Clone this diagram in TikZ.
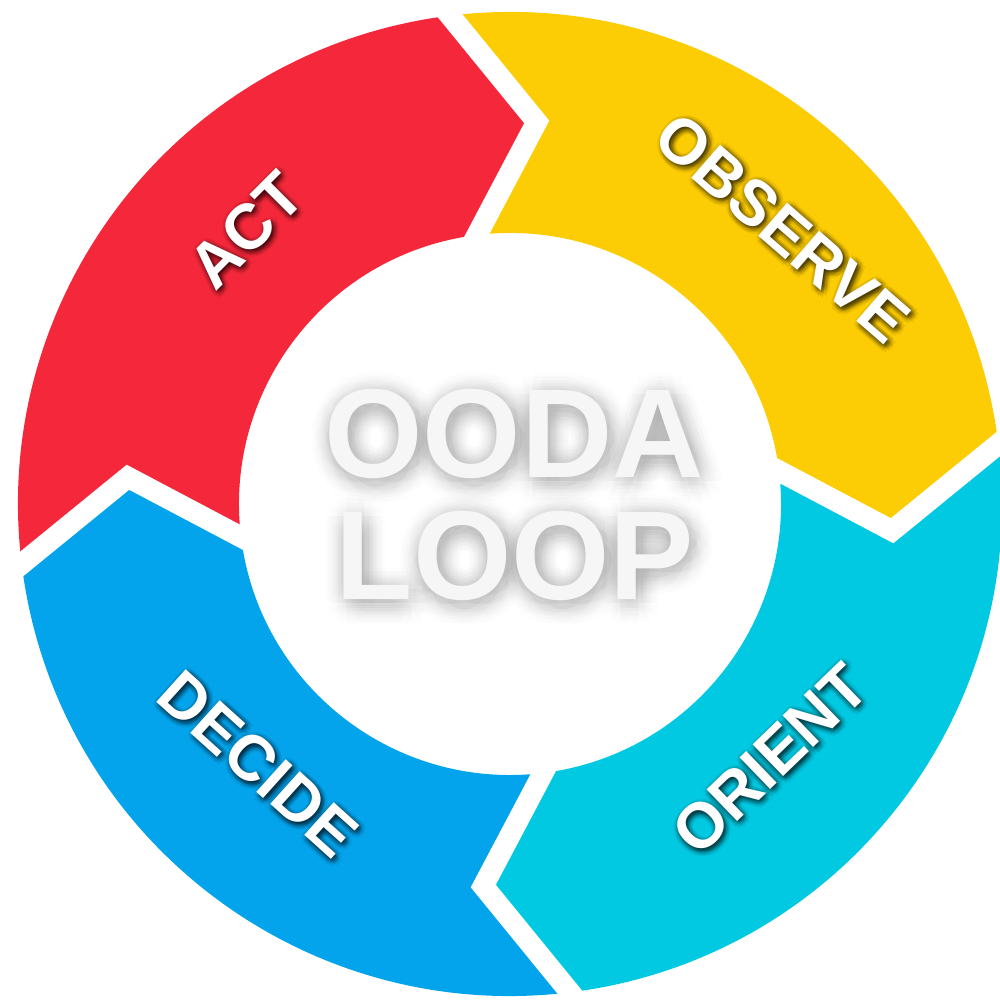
\documentclass[tikz,border=0pt]{standalone}
\usepackage{fontspec}
\setmainfont{Liberation Sans}
\usetikzlibrary{calc}

\definecolor{actred}{RGB}{244,40,58}
\definecolor{obsyellow}{RGB}{252,204,4}
\definecolor{oricyan}{RGB}{2,201,226}
\definecolor{decblue}{RGB}{4,164,236}
\definecolor{titlewhite}{RGB}{246,246,246}

\tikzset{
  ringlabel/.style={font=\bfseries\fontsize{18.2}{20}\selectfont, text=white, inner sep=0pt},
  ringshade/.style={font=\bfseries\fontsize{18.2}{20}\selectfont, text=black, opacity=0.055, inner sep=0pt},
  titletext/.style={font=\bfseries\fontsize{36}{40}\selectfont, text=titlewhite, inner sep=0pt, anchor=base},
  titleshade/.style={font=\bfseries\fontsize{36}{40}\selectfont, text=black, opacity=0.008, inner sep=0pt, anchor=base},
  gapline/.style={draw=white, line width=0.21cm, miter limit=20},
}

% ring geometry (cm)
\def\Rout{4.92}
\def\Rin{2.71}
\def\Rmid{3.83}
\def\tipang{11}

% one arrow segment of the ring: colour, tail angle, head angle
\newcommand{\ringsegment}[3]{%
  \pgfmathsetmacro{\headtip}{#3-\tipang}%
  \pgfmathsetmacro{\tailtip}{#2-\tipang}%
  \fill[#1] (#2:\Rout) arc[start angle=#2, end angle=#3, radius=\Rout]
    -- (\headtip:\Rmid) -- (#3:\Rin)
    arc[start angle=#3, end angle=#2, radius=\Rin]
    -- (\tailtip:\Rmid) -- cycle;
}

% white gap between two segments at boundary angle: name, angle
\newcommand{\ringgap}[2]{%
  \pgfmathsetmacro{\gaptip}{#2-\tipang}%
  \coordinate (#1-tip) at (\gaptip:\Rmid);
  \coordinate (#1-out) at (#2:\Rout);
  \coordinate (#1-in) at (#2:\Rin);
  \draw[gapline] ($(#1-tip)!1.4!(#1-out)$) -- (#1-tip) -- ($(#1-tip)!1.5!(#1-in)$);
}

% label with a soft dark shadow: name, position, rotation, text
\newcommand{\shadedlabel}[4]{%
  \foreach \rr [count=\ri] in {0.015,0.035,0.055}{
    \foreach \aa in {0,45,...,315}{
      \node[ringshade, rotate=#3] (#1-shade-\ri-\aa)
        at ($(#2)+(0.02,-0.025)+(\aa:\rr)$) {#4};
    }
  }
  \node[ringlabel, rotate=#3] (#1) at (#2) {#4};
}

% title line with a wide soft grey shadow: name, base position, text
\newcommand{\shadedtitle}[3]{%
  \foreach \rr [count=\ri] in {0.05,0.09,0.13,0.17,0.21}{
    \foreach \aa in {0,30,...,330}{
      \node[titleshade] (#1-shade-\ri-\aa)
        at ($(#2)+(0.03,-0.04)+(\aa:\rr)$) {#3};
    }
  }
  \node[titletext] (#1) at (#2) {#3};
}

\begin{document}
\begin{tikzpicture}
\useasboundingbox (0,0) rectangle (10,10.05);

\begin{scope}[shift={(5.10,5.01)}]
  \ringsegment{actred}{187}{97}
  \ringsegment{obsyellow}{97}{7}
  \ringsegment{oricyan}{7}{-83}
  \ringsegment{decblue}{-83}{-173}
  \ringgap{gtop}{97}
  \ringgap{gright}{7}
  \ringgap{gbottom}{-83}
  \ringgap{gleft}{187}
\end{scope}

\shadedlabel{act}{2.46,7.75}{45}{ACT}
\shadedlabel{observe}{7.83,7.77}{-41}{OBSERVE}
\shadedlabel{orient}{7.70,2.46}{44}{ORIENT}
\shadedlabel{decide}{2.58,2.41}{-42}{DECIDE}

\shadedtitle{ooda}{5.14,5.27}{OODA}
\shadedtitle{loop}{5.15,4.05}{LOOP}
\end{tikzpicture}
\end{document}
